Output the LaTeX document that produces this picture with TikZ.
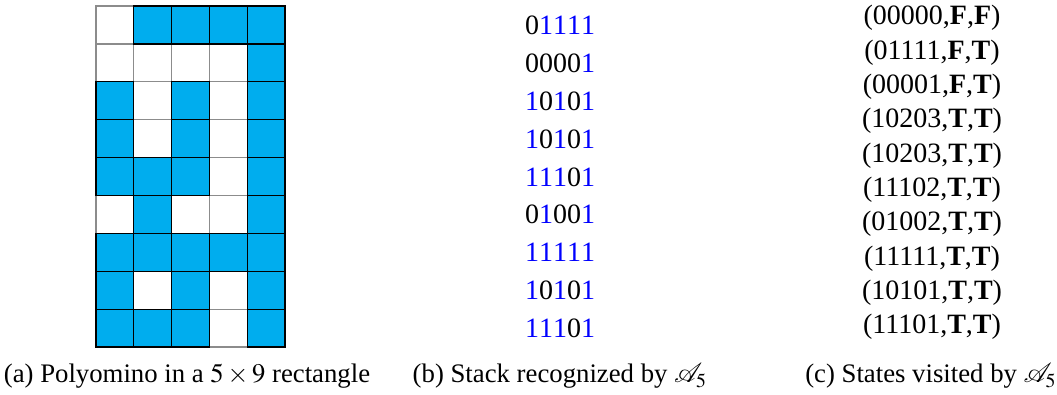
\documentclass[tikz,border=0pt]{standalone}
\usepackage{mathptmx}
\usepackage{mathrsfs}
\usepackage{fontspec}
\setmainfont{Liberation Serif}
\definecolor{polyblue}{RGB}{0,173,238}
\newcommand{\bo}{\textcolor{blue}{1}}
\tikzset{
  emptycell/.style={draw=black!45, line width=0.5pt},
  fullcell/.style={draw=black, fill=polyblue, line width=0.5pt},
  rowtext/.style={font=\fontsize{11.2}{13}\selectfont, inner sep=0pt},
  captext/.style={font=\fontsize{10.7}{12}\selectfont, inner sep=0pt}
}

\begin{document}
\begin{tikzpicture}[x=0.4pt, y=-0.4pt]
	%%%%% START %%%%%
	\useasboundingbox (0, 0) rectangle (1057, 394);

	% the 5 x 9 rectangle
	\foreach \c in {0,...,4}
		\foreach \r in {0,...,8}
			\draw[emptycell] (96+37.8*\c, 6+37.9*\r) rectangle ++(37.8, 37.9);
	\foreach \c/\r in {1/0, 2/0, 3/0, 4/0,
			4/1,
			0/2, 2/2, 4/2,
			0/3, 2/3, 4/3,
			0/4, 1/4, 2/4, 4/4,
			1/5, 4/5,
			0/6, 1/6, 2/6, 3/6, 4/6,
			0/7, 2/7, 4/7,
			0/8, 1/8, 2/8, 4/8}
		\draw[fullcell] (96+37.8*\c, 6+37.9*\r) rectangle ++(37.8, 37.9);

	% stack
	\node[rowtext] (s1) at (560, 25) {0\bo\bo\bo\bo};
	\node[rowtext] (s2) at (560, 63) {0000\bo};
	\node[rowtext] (s3) at (560, 101) {\bo0\bo0\bo};
	\node[rowtext] (s4) at (560, 139) {\bo0\bo0\bo};
	\node[rowtext] (s5) at (560, 177) {\bo\bo\bo0\bo};
	\node[rowtext] (s6) at (560, 214) {0\bo00\bo};
	\node[rowtext] (s7) at (560, 252) {\bo\bo\bo\bo\bo};
	\node[rowtext] (s8) at (560, 290) {\bo0\bo0\bo};
	\node[rowtext] (s9) at (560, 328) {\bo\bo\bo0\bo};

	% states
	\node[rowtext] (q0) at (932, 18) {(00000,\textbf{F},\textbf{F})};
	\node[rowtext] (q1) at (932, 52.3) {(01111,\textbf{F},\textbf{T})};
	\node[rowtext] (q2) at (932, 86.7) {(00001,\textbf{F},\textbf{T})};
	\node[rowtext] (q3) at (932, 121) {(10203,\textbf{T},\textbf{T})};
	\node[rowtext] (q4) at (932, 155.3) {(10203,\textbf{T},\textbf{T})};
	\node[rowtext] (q5) at (932, 189.7) {(11102,\textbf{T},\textbf{T})};
	\node[rowtext] (q6) at (932, 224) {(01002,\textbf{T},\textbf{T})};
	\node[rowtext] (q7) at (932, 258.3) {(11111,\textbf{T},\textbf{T})};
	\node[rowtext] (q8) at (932, 292.7) {(10101,\textbf{T},\textbf{T})};
	\node[rowtext] (q9) at (932, 327) {(11101,\textbf{T},\textbf{T})};

	% captions
	\node[captext] (capa) at (187, 376) {(a) Polyomino in a $5\times 9$ rectangle};
	\node[captext] (capb) at (560, 376) {(b) Stack recognized by $\mathscr{A}_5$};
	\node[captext] (capc) at (931, 376) {(c) States visited by $\mathscr{A}_5$};
	%%%%% END %%%%%
\end{tikzpicture}
\end{document}
